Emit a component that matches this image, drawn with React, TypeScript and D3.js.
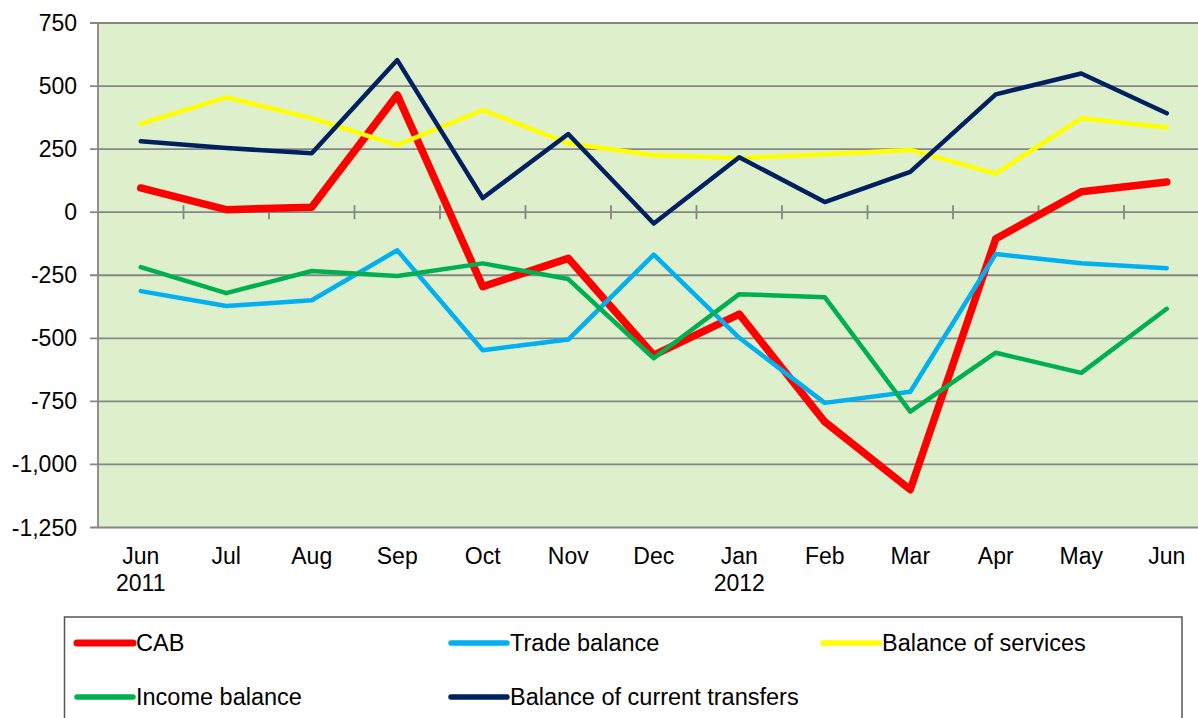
import React from "react";
import * as d3 from "d3";

const months = ["Jun", "Jul", "Aug", "Sep", "Oct", "Nov", "Dec", "Jan", "Feb", "Mar", "Apr", "May", "Jun"];
const years = ["2011", "", "", "", "", "", "", "2012", "", "", "", "", ""];
const yTicks = [750, 500, 250, 0, -250, -500, -750, -1000, -1250];

const cab = [96, 10, 20, 465, -295, -183, -567, -404, -831, -1100, -105, 81, 120];
const trade = [-313, -372, -349, -151, -547, -505, -168, -498, -756, -712, -166, -202, -222];
const services = [350, 455, 373, 266, 405, 273, 226, 214, 230, 247, 153, 372, 336];
const income = [-218, -321, -233, -253, -203, -265, -579, -325, -337, -791, -557, -637, -383];
const transfers = [281, 254, 234, 603, 56, 310, -45, 218, 40, 160, 467, 550, 392];

const series = [
  { name: "CAB", values: cab, color: "#FF0000", width: 7.5, legendWidth: 7 },
  { name: "Trade balance", values: trade, color: "#00B0F0", width: 4.5, legendWidth: 5.5 },
  { name: "Balance of services", values: services, color: "#FFFF00", width: 4.5, legendWidth: 5.5 },
  { name: "Income balance", values: income, color: "#00B050", width: 4.5, legendWidth: 5.5 },
  { name: "Balance of current transfers", values: transfers, color: "#002060", width: 4.5, legendWidth: 5.5 },
];

const W = 1198;
const H = 718;
const left = 98;
const top = 23;
const bottom = 527.5;
const band = 85.5;
const right = left + band * months.length;
const font = "'Liberation Sans', Arial, sans-serif";

export default function App() {
  const x = d3
    .scaleBand<number>()
    .domain(d3.range(months.length))
    .range([left, right]);
  const y = d3.scaleLinear().domain([-1250, 750]).range([bottom, top]);
  const cx = (i: number) => (x(i) as number) + x.bandwidth() / 2;
  const line = (vals: number[]) =>
    d3
      .line<number>()
      .x((_, i) => cx(i))
      .y((d) => y(d))(vals) as string;
  const fmt = (v: number) => d3.format(",")(v).replace("\u2212", "-");
  const grid = "#868686";

  const legendPos = [
    { x: 77, y: 643 },
    { x: 451, y: 643 },
    { x: 823, y: 643 },
    { x: 77, y: 697 },
    { x: 451, y: 697 },
  ];

  return (
    <svg
      width={W}
      height={H}
      style={{ position: "absolute", left: 0, top: 0, display: "block", background: "#fff" }}
      fontFamily={font}
    >
      <defs>
        <clipPath id="clip">
          <rect x={0} y={0} width={W} height={H} />
        </clipPath>
      </defs>
      <rect x={left} y={top} width={right - left} height={bottom - top} fill="#DEEFCB" />
      {yTicks.map((t) => (
        <g key={t}>
          {t !== 0 && (
            <line x1={left - 8} x2={right} y1={y(t)} y2={y(t)} stroke={grid} strokeWidth={1.8} />
          )}
          {t === 0 && <line x1={left - 8} x2={left} y1={y(t)} y2={y(t)} stroke={grid} strokeWidth={1.8} />}
          <text
            x={77}
            y={y(t)}
            textAnchor="end"
            dominantBaseline="central"
            fontSize={23}
            fill="#000"
          >
            {fmt(t)}
          </text>
        </g>
      ))}
      <line x1={left} x2={left} y1={top} y2={bottom} stroke={grid} strokeWidth={1.8} />
      <line x1={left} x2={right} y1={y(0)} y2={y(0)} stroke={grid} strokeWidth={1.8} />
      {d3.range(1, months.length + 1).map((i) => (
        <line
          key={i}
          x1={left + i * x.bandwidth()}
          x2={left + i * x.bandwidth()}
          y1={y(0) - 7}
          y2={y(0) + 7}
          stroke={grid}
          strokeWidth={1.8}
        />
      ))}
      {months.map((m, i) => (
        <g key={i}>
          <text x={cx(i)} y={556} textAnchor="middle" dominantBaseline="central" fontSize={23}>
            {m}
          </text>
          {years[i] && (
            <text x={cx(i)} y={583} textAnchor="middle" dominantBaseline="central" fontSize={23}>
              {years[i]}
            </text>
          )}
        </g>
      ))}
      <g clipPath="url(#clip)">
        {series.map((s) => (
          <path
            key={s.name}
            d={line(s.values)}
            fill="none"
            stroke={s.color}
            strokeWidth={s.width}
            strokeLinejoin="round"
            strokeLinecap="round"
          />
        ))}
      </g>
      <rect x={64.5} y={617} width={1117.5} height={120} fill="none" stroke="#555" strokeWidth={1.5} />
      {series.map((s, i) => (
        <g key={s.name}>
          <line
            x1={legendPos[i].x}
            x2={legendPos[i].x + 56}
            y1={legendPos[i].y}
            y2={legendPos[i].y}
            stroke={s.color}
            strokeWidth={s.legendWidth}
            strokeLinecap="round"
          />
          <text
            x={legendPos[i].x + 59}
            y={legendPos[i].y}
            dominantBaseline="central"
            fontSize={23.5}
          >
            {s.name}
          </text>
        </g>
      ))}
    </svg>
  );
}
